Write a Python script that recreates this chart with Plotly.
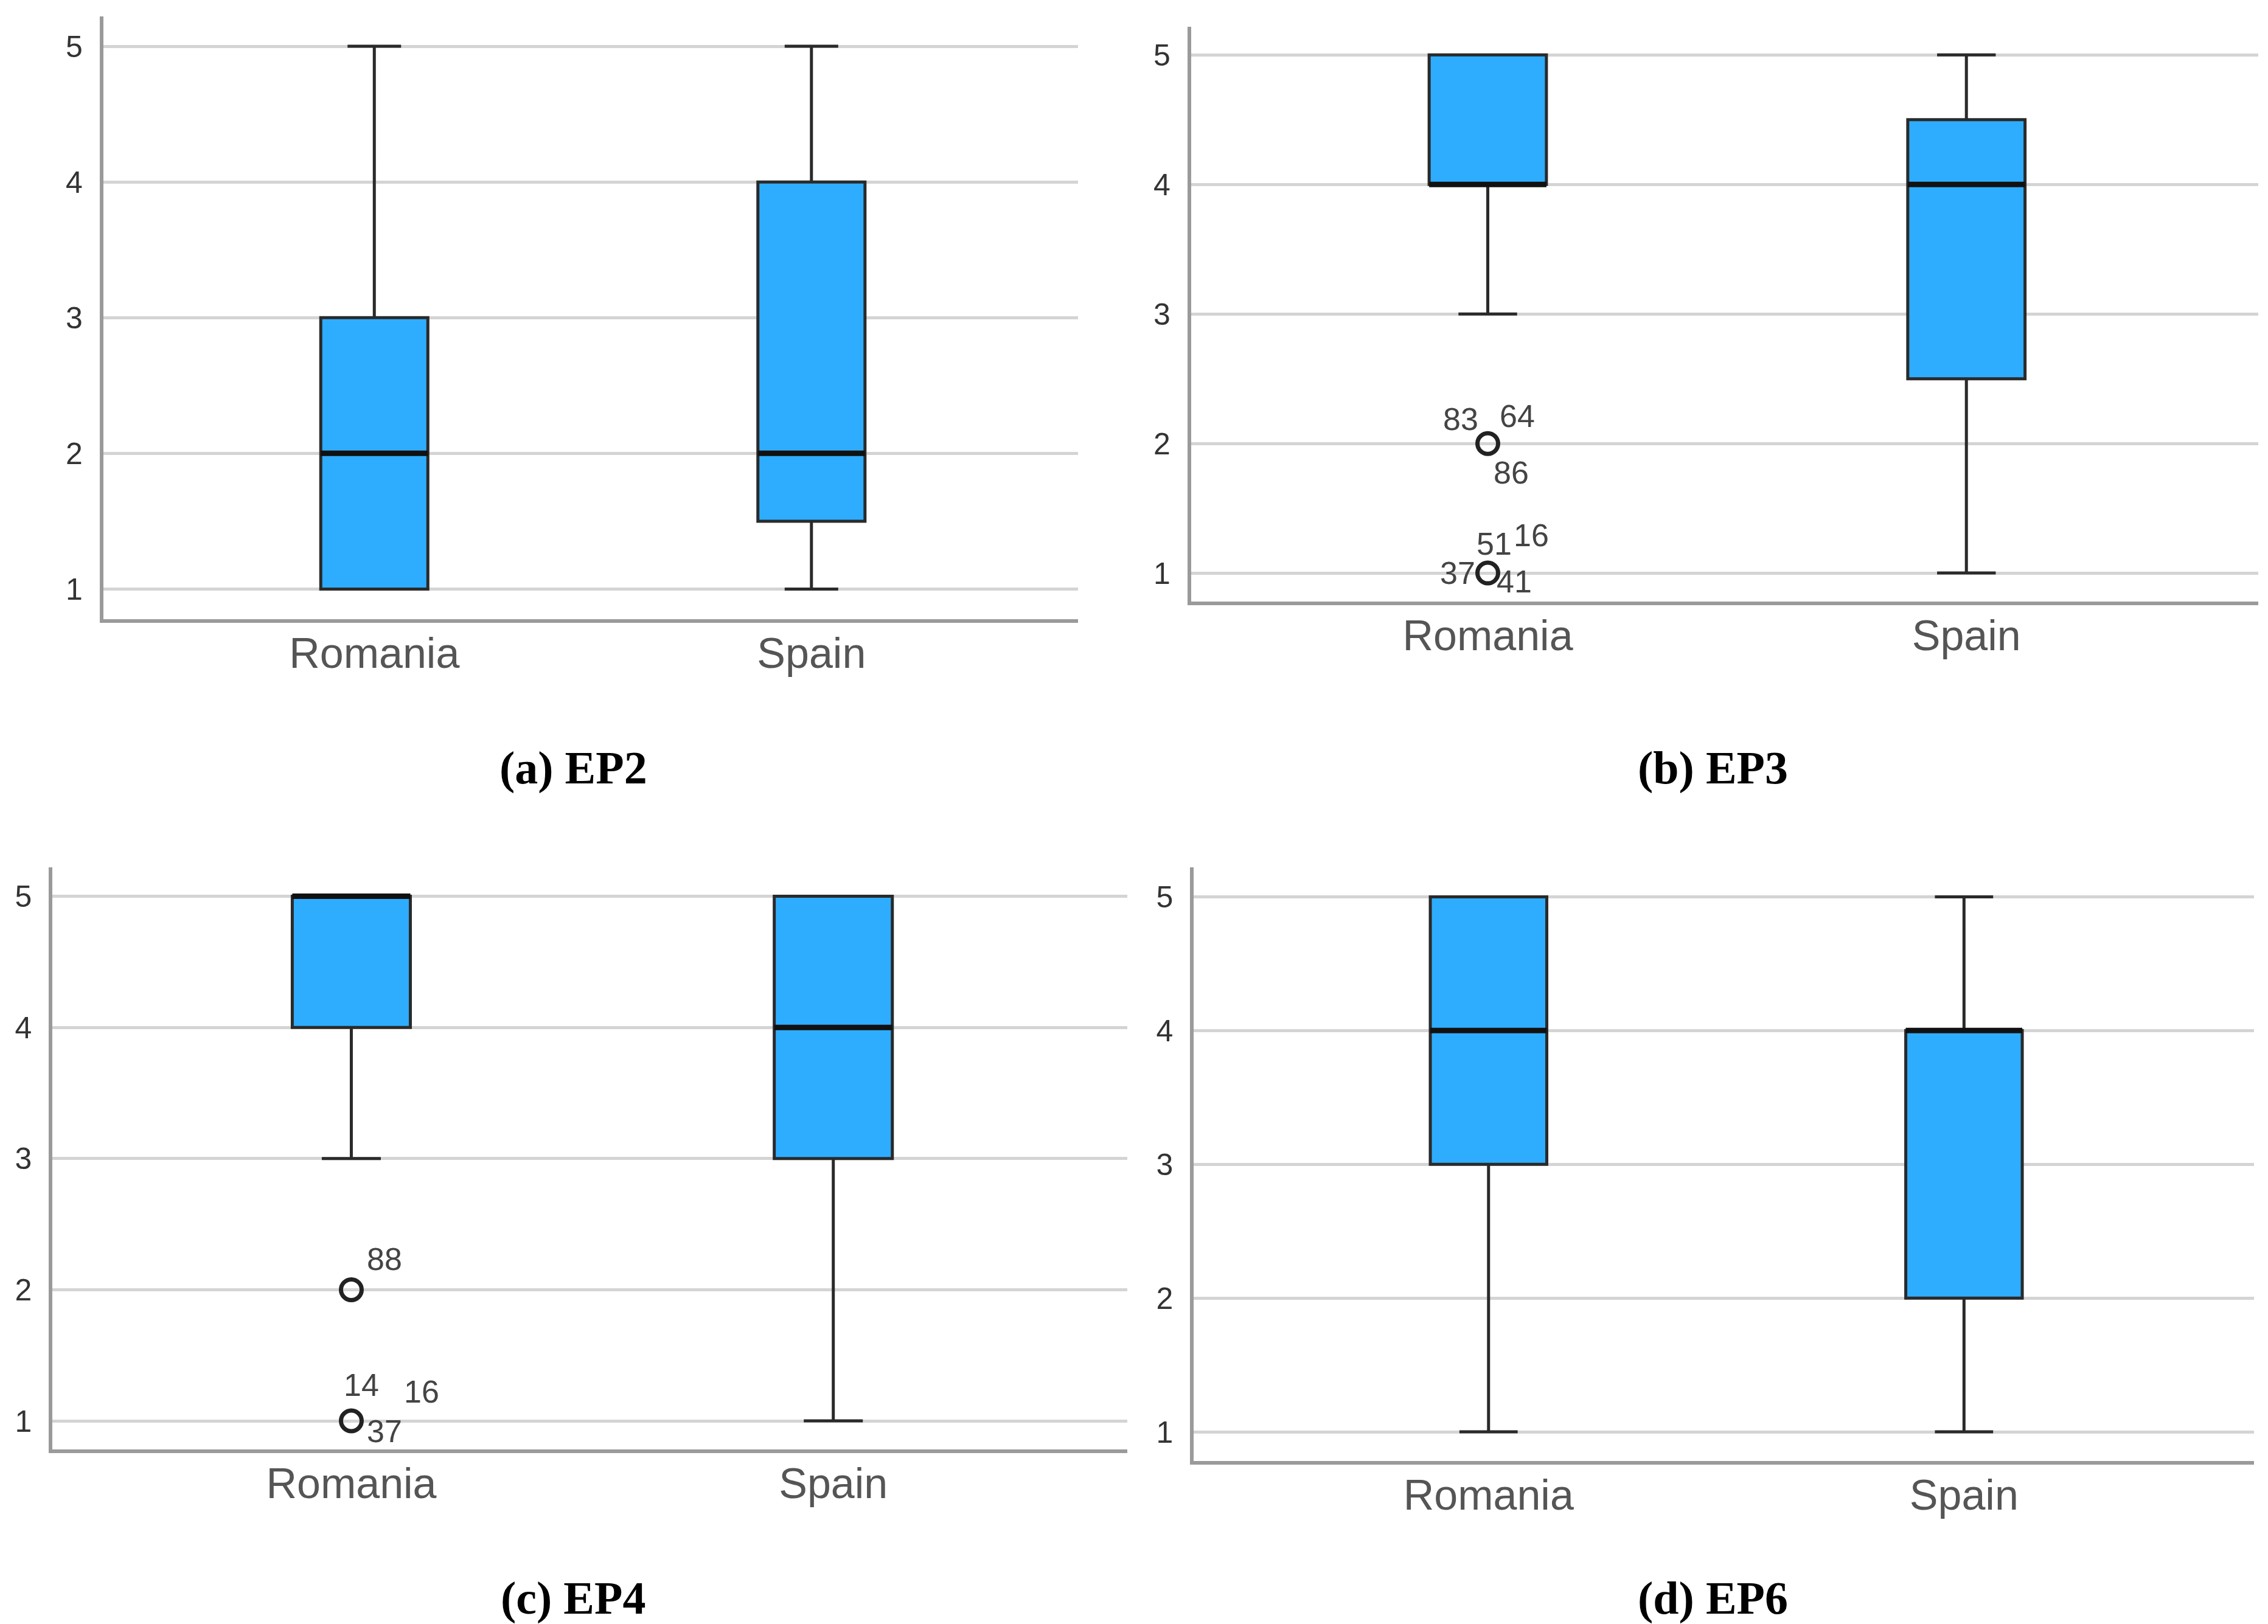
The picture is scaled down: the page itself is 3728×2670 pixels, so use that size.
import plotly.graph_objects as go

# ---------------- data ----------------
categories = ["Romania", "Spain"]
panels = ["(a) EP2", "(b) EP3", "(c) EP4", "(d) EP6"]

# per panel: [Romania, Spain]
lower = [[1, 1], [3, 1], [3, 1], [1, 1]]
q1 = [[1, 1.5], [4, 2.5], [4, 3], [3, 2]]
median = [[2, 2], [4, 4], [5, 4], [4, 4]]
q3 = [[3, 4], [5, 4.5], [5, 5], [5, 4]]
upper = [[5, 5], [5, 5], [5, 5], [5, 5]]

# outliers (panel index, category index, value, case labels)
outlier_panel = [1, 1, 2, 2]
outlier_cat = [0, 0, 0, 0]
outlier_value = [2, 1, 2, 1]
outlier_labels = [["83", "64", "86"], ["51", "16", "37", "41"], ["88"], ["14", "16", "37"]]

y_ticks = [1, 2, 3, 4, 5]

# ---------------- styling / layout ----------------
W, H = 3728, 2670
label_offsets = [  # pixel offsets (dx, dy-down) for each outlier label
    [(-45, -40), (48, -45), (38, 48)],
    [(10, -48), (71, -62), (-50, 0), (43, 14)],
    [(55, -50)],
    [(17, -59), (116, -48), (55, 17)],
]
domains = [
    ([0.0434, 0.4732], [0.6219, 0.9929]),
    ([0.5230, 0.9936], [0.6326, 0.9867]),
    ([0.0210, 0.4949], [0.1103, 0.4689]),
    ([0.5242, 0.9917], [0.1032, 0.4689]),
]
caption_pos = [(0.2506, 0.5300), (0.7532, 0.5300), (0.2506, 0.0190), (0.7532, 0.0190)]
box_w = 0.245
fill = "#2EADFF"
xpos = [0, 1]

fig = go.Figure()
layout = dict(width=W, height=H, margin=dict(l=0, r=0, t=0, b=0),
              paper_bgcolor="white", plot_bgcolor="white", showlegend=False,
              boxmode="overlay")
annotations = []

for p in range(4):
    sfx = "" if p == 0 else str(p + 1)
    xa, ya = "x" + sfx, "y" + sfx
    fig.add_trace(go.Box(
        x=xpos, q1=q1[p], median=median[p], q3=q3[p],
        lowerfence=lower[p], upperfence=upper[p],
        width=box_w, whiskerwidth=0.5, boxpoints=False,
        fillcolor=fill, line=dict(color="#2a2a2a", width=5),
        xaxis=xa, yaxis=ya, hoverinfo="skip"))
    # thicker median lines
    for i in range(2):
        fig.add_trace(go.Scatter(
            x=[xpos[i] - box_w / 2, xpos[i] + box_w / 2],
            y=[median[p][i], median[p][i]], mode="lines",
            line=dict(color="#111111", width=9), xaxis=xa, yaxis=ya,
            hoverinfo="skip"))
    dx, dy = domains[p]
    layout["xaxis" + sfx] = dict(
        domain=dx, range=[-0.62, 1.61], tickvals=xpos, ticktext=categories,
        showline=True, linecolor="#9a9a9a", linewidth=6, showgrid=False,
        zeroline=False, ticks="", ticklabelstandoff=-10,
        tickfont=dict(family="Liberation Sans", size=70, color="#555555"),
        anchor=ya, fixedrange=True)
    layout["yaxis" + sfx] = dict(
        domain=dy, range=[0.78, 5.22], tickvals=y_ticks,
        showline=True, linecolor="#9a9a9a", linewidth=6,
        showgrid=True, gridcolor="#d4d4d4", gridwidth=5, zeroline=False,
        ticks="", ticklabelstandoff=18,
        tickfont=dict(family="Liberation Sans", size=50, color="#333333"),
        anchor=xa, fixedrange=True)
    cx, cy = caption_pos[p]
    annotations.append(dict(
        text="<b>" + panels[p] + "</b>", x=cx, y=cy, xref="paper", yref="paper",
        showarrow=False, xanchor="center", yanchor="middle",
        font=dict(family="Liberation Serif", size=76, color="black")))

for k in range(len(outlier_value)):
    p = outlier_panel[k]
    sfx = "" if p == 0 else str(p + 1)
    xa, ya = "x" + sfx, "y" + sfx
    xv = xpos[outlier_cat[k]]
    fig.add_trace(go.Scatter(
        x=[xv], y=[outlier_value[k]], mode="markers",
        marker=dict(symbol="circle-open", size=34, color="#222222",
                    line=dict(width=7, color="#222222")),
        xaxis=xa, yaxis=ya, hoverinfo="skip"))
    for lab, (ox, oy) in zip(outlier_labels[k], label_offsets[k]):
        annotations.append(dict(
            text=lab, x=xv, y=outlier_value[k], xref=xa, yref=ya,
            showarrow=False, xanchor="center", yanchor="middle",
            xshift=ox, yshift=-oy,
            font=dict(family="Liberation Sans", size=52, color="#444444")))

layout["annotations"] = annotations
fig.update_layout(**layout)
fig.write_html("out.html")
